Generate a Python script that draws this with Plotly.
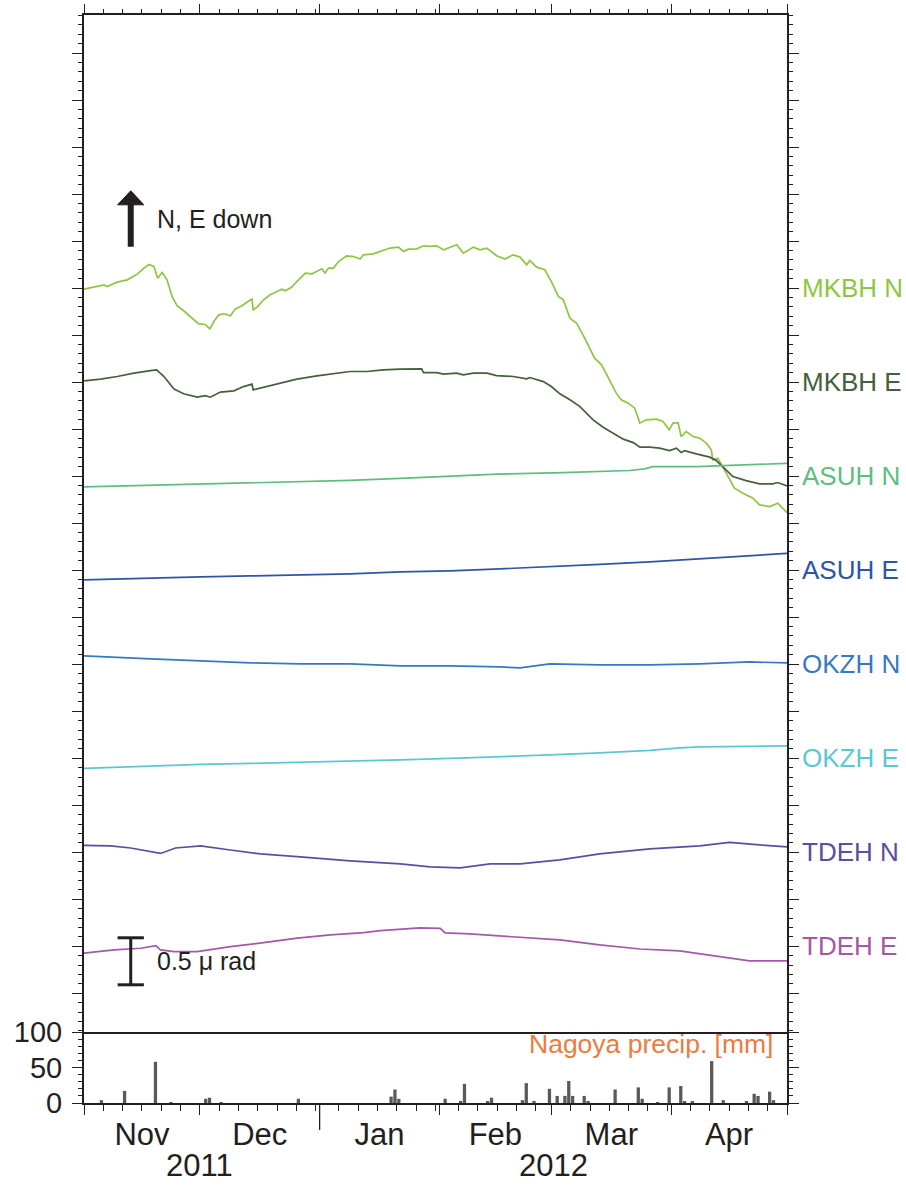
import pandas as pd
import plotly.graph_objects as go

# ---------------------------------------------------------------------------
# Tiltmeter records (days elapsed since 2011-11-01, tilt in micro-radians
# relative to each trace's baseline level)
# ---------------------------------------------------------------------------
START = pd.Timestamp("2011-11-01")
END = pd.Timestamp("2012-05-01")

mkbh_n_days = [0, 5.2, 6.0, 8.6, 11.2, 13.8, 15.5, 16.8, 18.1, 19.1, 20.2, 21.5, 22.8, 24.1, 25.8,
               27.6, 29.7, 31.4, 32.6, 33.6, 34.9, 36.2, 37.9, 39.2, 40.9, 43.1, 43.5, 43.8, 44.8,
               46.5, 48.2, 50.0, 51.2, 52.1, 53.8, 55.1, 57.3, 59.0, 60.3, 61.6, 62.4, 63.3, 64.6,
               65.9, 68.0, 69.8, 71.5, 72.3, 74.9, 77.5, 79.2, 81.4, 82.7, 84.0, 86.1, 87.9, 89.6,
               91.3, 93.1, 96.5, 98.2, 100.8, 102.5, 104.3, 106.8, 109.0, 111.1, 112.9, 114.6, 115.4,
               117.2, 119.3, 121.0, 122.8, 124.1, 125.8, 127.5, 129.2, 131.0, 132.2, 134.0, 136.1,
               137.8, 139.1, 140.9, 142.6, 143.9, 145.6, 148.2, 149.9, 151.5, 152.5, 153.8, 154.6,
               155.9, 157.7, 159.4, 161.1, 162.4, 162.8, 164.1, 165.8, 168.4, 170.6, 173.2, 174.9,
               177.5, 179.6, 182.0]
mkbh_n_tilt = [-0.011, 0.035, 0.017, 0.064, 0.088, 0.149, 0.213, 0.251, 0.230, 0.106, 0.166, 0.088,
               -0.089, -0.188, -0.241, -0.302, -0.380, -0.387, -0.433, -0.355, -0.284, -0.273,
               -0.295, -0.220, -0.188, -0.124, -0.117, -0.231, -0.202, -0.124, -0.071, -0.036,
               -0.011, -0.029, 0.011, 0.070, 0.160, 0.152, 0.177, 0.205, 0.160, 0.213, 0.213, 0.283,
               0.344, 0.336, 0.309, 0.354, 0.365, 0.397, 0.426, 0.436, 0.390, 0.415, 0.418, 0.450,
               0.443, 0.450, 0.407, 0.461, 0.372, 0.436, 0.407, 0.426, 0.344, 0.309, 0.354, 0.330,
               0.248, 0.294, 0.223, 0.195, 0.070, -0.089, -0.124, -0.319, -0.372, -0.497, -0.638,
               -0.745, -0.816, -0.976, -1.117, -1.188, -1.223, -1.277, -1.436, -1.401, -1.394,
               -1.419, -1.507, -1.436, -1.430, -1.579, -1.525, -1.579, -1.596, -1.649, -1.720,
               -1.827, -1.809, -1.933, -2.128, -2.181, -2.234, -2.305, -2.323, -2.287, -2.387]

mkbh_e_days = [0, 4.3, 8.6, 12.9, 17.2, 18.8, 20.7, 23.3, 25.8, 29.3, 31.4, 32.7, 35.3, 38.8, 41.3,
               43.5, 43.8, 45.6, 50.0, 55.1, 60.3, 65.5, 68.9, 73.2, 77.5, 81.8, 86.1, 87.4, 87.9,
               91.3, 93.1, 96.5, 98.2, 100.8, 104.3, 106.8, 111.1, 114.6, 115.4, 118.9, 121.0, 123.2,
               125.8, 128.4, 131.8, 134.4, 137.0, 139.6, 142.2, 143.9, 146.5, 149.0, 151.6, 153.4,
               154.6, 155.5, 158.5, 162.0, 163.7, 165.4, 168.0, 171.4, 174.9, 178.3, 179.6, 182.0]
mkbh_e_tilt = [0.014, 0.032, 0.060, 0.096, 0.123, 0.131, 0.060, -0.074, -0.124, -0.160, -0.143,
               -0.160, -0.106, -0.093, -0.047, -0.021, -0.082, -0.064, -0.018, 0.032, 0.067, 0.096,
               0.113, 0.113, 0.131, 0.138, 0.138, 0.141, 0.102, 0.102, 0.085, 0.096, 0.078, 0.096,
               0.096, 0.070, 0.060, 0.035, 0.049, 0.006, -0.047, -0.124, -0.188, -0.260, -0.401,
               -0.479, -0.543, -0.606, -0.643, -0.691, -0.691, -0.702, -0.728, -0.702, -0.749,
               -0.728, -0.763, -0.798, -0.834, -0.898, -1.004, -1.047, -1.082, -1.082, -1.068, -1.103]

asuh_n_days = [0, 17.3, 30.2, 43.1, 56.0, 68.9, 81.9, 89.6, 106.9, 124.0, 141.3, 145.1, 147.2,
               158.6, 167.1, 175.7, 182.0]
asuh_n_tilt = [-0.114, -0.098, -0.082, -0.071, -0.061, -0.045, -0.023, -0.007, 0.021, 0.038,
               0.060, 0.078, 0.102, 0.102, 0.115, 0.130, 0.136]

asuh_e_days = [0, 17.3, 30.2, 43.1, 56.0, 68.9, 81.9, 94.8, 107.7, 120.6, 133.5, 146.5, 159.4,
               172.3, 182.0]
asuh_e_tilt = [-0.103, -0.082, -0.071, -0.061, -0.050, -0.039, -0.018, -0.007, 0.014, 0.035,
               0.061, 0.088, 0.120, 0.152, 0.179]

okzh_n_days = [0, 9.5, 17.3, 30.2, 43.1, 56.0, 68.9, 81.9, 94.8, 107.7, 112.9, 120.6, 133.5,
               146.5, 159.4, 172.3, 182.0]
okzh_n_tilt = [0.088, 0.067, 0.056, 0.035, 0.014, 0.003, 0.003, -0.018, -0.018, -0.029, -0.039,
               0.003, -0.007, -0.007, 0.003, 0.024, 0.014]

okzh_e_days = [0, 17.3, 30.2, 43.1, 56.0, 68.9, 81.9, 94.8, 107.7, 120.6, 133.5, 146.5, 154.2,
               159.4, 172.3, 182.0]
okzh_e_tilt = [-0.109, -0.082, -0.066, -0.055, -0.045, -0.034, -0.018, -0.002, 0.014, 0.035,
               0.056, 0.083, 0.110, 0.120, 0.126, 0.131]

tdeh_n_days = [0, 6.9, 12.1, 17.3, 19.8, 23.7, 30.2, 37.9, 45.7, 56.0, 68.9, 81.9, 89.6, 97.4,
               105.1, 112.9, 123.2, 133.5, 146.5, 159.4, 167.1, 174.9, 182.0]
tdeh_n_tilt = [0.072, 0.067, 0.045, 0.003, -0.013, 0.045, 0.067, 0.024, -0.018, -0.050, -0.092,
               -0.124, -0.156, -0.167, -0.124, -0.124, -0.082, -0.018, 0.035, 0.067, 0.104, 0.078,
               0.056]

tdeh_e_days = [0, 7.8, 14.7, 18.6, 19.8, 23.3, 29.3, 37.9, 46.5, 55.2, 63.8, 72.4, 76.7, 81.9,
               87.0, 92.2, 93.5, 99.9, 107.7, 115.5, 123.2, 133.5, 143.9, 154.2, 159.4, 167.1,
               172.3, 182.0]
tdeh_e_tilt = [-0.074, -0.039, -0.021, 0.006, -0.039, -0.057, -0.057, -0.004, 0.038, 0.086, 0.121,
               0.145, 0.166, 0.184, 0.195, 0.190, 0.142, 0.131, 0.110, 0.089, 0.067, 0.014, -0.029,
               -0.050, -0.082, -0.124, -0.156, -0.156]

# Channel names, colours and the level each trace is stacked at (micro-radians)
channels = ["MKBH N", "MKBH E", "ASUH N", "ASUH E", "OKZH N", "OKZH E", "TDEH N", "TDEH E"]
channel_colors = ["#8DC641", "#45603A", "#5DBE7E", "#2C56A5", "#3579C0", "#5BC7D3", "#5A4EA1", "#A458A9"]
channel_levels = [7.5, 6.5, 5.5, 4.5, 3.5, 2.5, 1.5, 0.5]
channel_data = [
    (mkbh_n_days, mkbh_n_tilt), (mkbh_e_days, mkbh_e_tilt),
    (asuh_n_days, asuh_n_tilt), (asuh_e_days, asuh_e_tilt),
    (okzh_n_days, okzh_n_tilt), (okzh_e_days, okzh_e_tilt),
    (tdeh_n_days, tdeh_n_tilt), (tdeh_e_days, tdeh_e_tilt),
]

# Daily precipitation at Nagoya (mm)
precip_dates = ["2011-11-05", "2011-11-11", "2011-11-19", "2011-11-23", "2011-12-02", "2011-12-03",
                "2011-12-06", "2011-12-26", "2012-01-19", "2012-01-20", "2012-01-21", "2012-02-02",
                "2012-02-06", "2012-02-07", "2012-02-13", "2012-02-14", "2012-02-22", "2012-02-23",
                "2012-02-25", "2012-02-29", "2012-03-02", "2012-03-04", "2012-03-05", "2012-03-06",
                "2012-03-09", "2012-03-10", "2012-03-17", "2012-03-23", "2012-03-24", "2012-03-28",
                "2012-03-31", "2012-04-03", "2012-04-04", "2012-04-06", "2012-04-11", "2012-04-14",
                "2012-04-20", "2012-04-22", "2012-04-23", "2012-04-26", "2012-04-27"]
precip_mm = [4, 17, 58, 1, 6, 7.5, 1, 6, 9, 19, 6, 6, 3, 27, 1.5, 7.5, 4, 28, 3, 20, 10, 10, 31, 10,
             10, 2, 19, 22, 6, 1, 22, 24, 2, 2, 59, 4, 2, 13, 10, 16, 4]

# Scale bar and "N, E down" arrow (micro-radians / days since start)
SCALE_BAR_LEN = 0.5
SCALE_BAR_BASE = 0.09
MARK_DAY = 12.1

# ---------------------------------------------------------------------------
INK = "#231F20"
FONT = "Liberation Sans, Arial, Helvetica, sans-serif"
W, H = 906, 1186
M_L, M_R, M_T, M_B = 84, 119, 15, 83
PLOT_H = H - M_T - M_B
PRECIP_TOP = 71 / PLOT_H        # fraction of plot height used by the rain panel


def to_time(days):
    return START + pd.to_timedelta(pd.Series(days, dtype=float), unit="D")


def day(d):
    return START + pd.Timedelta(days=d)


fig = go.Figure()

for name, color, level, (d, v) in zip(channels, channel_colors, channel_levels, channel_data):
    fig.add_trace(go.Scatter(
        x=to_time(d), y=[level + t for t in v], mode="lines",
        line=dict(color=color, width=1.7), name=name, showlegend=False,
        xaxis="x", yaxis="y",
    ))
    fig.add_annotation(
        x=1, xref="paper", y=level, yref="y", xanchor="left", yanchor="middle",
        xshift=13, text=name, showarrow=False,
        font=dict(family=FONT, size=26, color=color),
    )

# precipitation bars, one per day centred at noon
fig.add_trace(go.Bar(
    x=pd.to_datetime(precip_dates) + pd.Timedelta(hours=12), y=precip_mm,
    width=0.85 * 86400000, marker=dict(color="#595959", line=dict(width=0)),
    xaxis="x2", yaxis="y2", showlegend=False,
))

# scale bar (I-beam)
half = 3.4
sb_top = SCALE_BAR_BASE + SCALE_BAR_LEN
fig.add_trace(go.Scatter(
    x=[day(MARK_DAY - half), day(MARK_DAY + half), None,
       day(MARK_DAY), day(MARK_DAY), None,
       day(MARK_DAY - half), day(MARK_DAY + half)],
    y=[sb_top, sb_top, None, sb_top, SCALE_BAR_BASE, None, SCALE_BAR_BASE, SCALE_BAR_BASE],
    mode="lines", line=dict(color=INK, width=3), showlegend=False, xaxis="x", yaxis="y",
))
fig.add_annotation(
    x=day(18.3), y=SCALE_BAR_BASE + SCALE_BAR_LEN / 2, xref="x", yref="y",
    xanchor="left", yanchor="middle", text="0.5 \u03bc rad", showarrow=False,
    font=dict(family=FONT, size=25, color=INK),
)

# north/east-down arrow
shaft_lo, head_lo, head_hi = 7.94, 8.386, 8.535
fig.add_trace(go.Scatter(
    x=[day(MARK_DAY), day(MARK_DAY)], y=[shaft_lo, head_lo + 0.01],
    mode="lines", line=dict(color=INK, width=6), showlegend=False, xaxis="x", yaxis="y",
))
fig.add_trace(go.Scatter(
    x=[day(MARK_DAY - half), day(MARK_DAY + half), day(MARK_DAY), day(MARK_DAY - half)],
    y=[head_lo, head_lo, head_hi, head_lo], mode="lines", fill="toself",
    fillcolor=INK, line=dict(color=INK, width=1), showlegend=False, xaxis="x", yaxis="y",
))
fig.add_annotation(
    x=day(18.5), y=8.232, xref="x", yref="y", xanchor="left", yanchor="middle",
    text="N, E down", showarrow=False, font=dict(family=FONT, size=25, color=INK),
)

# rain panel caption
fig.add_annotation(
    x=pd.Timestamp("2012-04-28"), y=83, xref="x2", yref="y2",
    xanchor="right", yanchor="middle", text="Nagoya precip. [mm]", showarrow=False,
    font=dict(family=FONT, size=26.5, color="#EC7B3F"),
)

# year labels under the month names
for label, xc in (("2011", pd.Timestamp("2011-12-01")), ("2012", pd.Timestamp("2012-03-01 12:00"))):
    fig.add_annotation(x=xc, y=-62 / PLOT_H, xref="x2", yref="paper",
                       text=label, showarrow=False, yanchor="middle",
                       font=dict(family=FONT, size=31, color=INK))

# longer tick marking the change of year
fig.add_shape(type="line", xref="x2", yref="paper",
              x0=pd.Timestamp("2012-01-01"), x1=pd.Timestamp("2012-01-01"),
              y0=0, y1=-27 / PLOT_H, line=dict(color=INK, width=1.3))

# minor date ticks on days 1, 6, 11, ... of every month
minor_days = []
for m in pd.date_range(START, END, freq="MS")[:-1]:
    for dd in (1, 6, 11, 16, 21, 26, 31):
        if dd <= m.days_in_month:
            minor_days.append(m + pd.Timedelta(days=dd - 1))

x_common = dict(
    type="date", range=[START, END], showline=True, linecolor=INK, linewidth=2,
    showgrid=False, zeroline=False, tickcolor=INK, tickwidth=1.3, automargin=False,
    tick0=START, dtick="M1", ticks="outside",
)
fig.update_layout(
    width=W, height=H, margin=dict(l=M_L, r=M_R, t=M_T, b=M_B, autoexpand=False),
    paper_bgcolor="white", plot_bgcolor="white", showlegend=False,
    font=dict(family=FONT, color=INK),
    xaxis=dict(
        **x_common, side="top", anchor="y", mirror=True, ticklen=9, showticklabels=False,
        minor=dict(tickmode="array", tickvals=minor_days, ticks="outside", ticklen=4,
                   tickcolor=INK, tickwidth=1.2),
    ),
    xaxis2=dict(
        **x_common, side="bottom", anchor="y2", matches="x", ticklen=10,
        ticklabelmode="period", tickformat="%b", tickfont=dict(size=31, color=INK),
        ticklabelstandoff=-7,
        minor=dict(tickmode="array", tickvals=minor_days, ticks="outside", ticklen=6,
                   tickcolor=INK, tickwidth=1.2),
    ),
    yaxis=dict(
        domain=[PRECIP_TOP, 1], range=[-0.412, 10.405], showline=True, linecolor=INK,
        linewidth=2, mirror="ticks", ticks="outside", ticklen=10, tickwidth=1.3,
        tickcolor=INK, tick0=0, dtick=0.5, showticklabels=False, showgrid=False,
        zeroline=False, automargin=False,
        minor=dict(dtick=0.1, tick0=0, ticks="outside", ticklen=4, tickcolor=INK,
                   tickwidth=1.2),
    ),
    yaxis2=dict(
        domain=[0, PRECIP_TOP], range=[0, 100], showline=True, linecolor=INK,
        linewidth=2, mirror="ticks", ticks="outside", ticklen=10, tickwidth=1.3,
        tickcolor=INK, tickvals=[0, 50, 100], ticktext=["0", "50", "100"],
        tickfont=dict(size=29, color=INK), ticklabelstandoff=4,
        showgrid=False, zeroline=False, automargin=False,
        minor=dict(dtick=10, tick0=0, ticks="outside", ticklen=4, tickcolor=INK,
                   tickwidth=1.2),
    ),
)

fig.write_html("out.html")
